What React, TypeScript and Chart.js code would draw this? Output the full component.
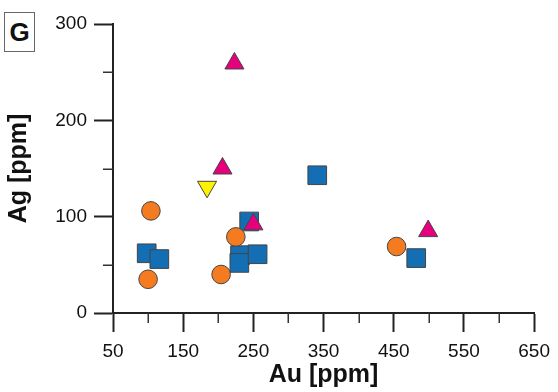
import React, { useEffect, useRef } from "react";
import { Chart, registerables } from "chart.js";

Chart.register(...registerables);

// ---- Data (Au ppm, Ag ppm) ----
const squaresAu = [98, 116, 244, 231, 230, 256, 341, 482];
const squaresAg = [62, 56, 95, 60, 52, 61, 143, 57];

const circlesAu = [104, 100, 204, 225, 454];
const circlesAg = [106, 35, 40, 79, 69];

const triUpAu = [223, 206, 250, 499];
const triUpAg = [259, 150, 92, 85];

const triDownAu = [184];
const triDownAg = [131];

// ---- Axis ticks ----
const xMajorTicks = [50, 150, 250, 350, 450, 550, 650];
const xMinorTicks = [100, 200, 300, 400, 500, 600];
const yMajorTicks = [0, 100, 200, 300];
const yMinorTicks = [50, 150, 250];

const FONT = "'Liberation Sans', Arial, Helvetica, sans-serif";

const toPoints = (xs: number[], ys: number[]) => xs.map((x, i) => ({ x, y: ys[i] }));

const minorTicksPlugin = {
  id: "minorTicks",
  afterDraw(chart: any) {
    const ctx = chart.ctx;
    const xs = chart.scales.x;
    const ys = chart.scales.y;
    ctx.save();
    ctx.strokeStyle = "#333";
    ctx.lineWidth = 1.5;
    ctx.beginPath();
    xMinorTicks.forEach((v) => {
      const px = Math.round(xs.getPixelForValue(v)) + 0.25;
      ctx.moveTo(px, xs.top);
      ctx.lineTo(px, xs.top + 10);
    });
    yMinorTicks.forEach((v) => {
      const py = Math.round(ys.getPixelForValue(v)) + 0.25;
      ctx.moveTo(ys.right, py);
      ctx.lineTo(ys.right - 10, py);
    });
    ctx.stroke();
    ctx.restore();
  },
};

export default function App() {
  const canvasRef = useRef<HTMLCanvasElement | null>(null);

  useEffect(() => {
    const canvas = canvasRef.current;
    if (!canvas) return;
    const border = "#444";
    const chart = new Chart(canvas, {
      type: "scatter",
      data: {
        datasets: [
          {
            label: "Down triangles",
            data: toPoints(triDownAu, triDownAg),
            pointStyle: "triangle",
            rotation: 180,
            pointRadius: 11,
            backgroundColor: "#fff200",
            borderColor: border,
            borderWidth: 1,
            order: 1,
          },
          {
            label: "Triangles",
            data: toPoints(triUpAu, triUpAg),
            pointStyle: "triangle",
            pointRadius: 11,
            backgroundColor: "#e6007e",
            borderColor: border,
            borderWidth: 1,
            order: 2,
          },
          {
            label: "Circles",
            data: toPoints(circlesAu, circlesAg),
            pointStyle: "circle",
            pointRadius: 9.3,
            backgroundColor: "#f47b20",
            borderColor: border,
            borderWidth: 1,
            order: 3,
          },
          {
            label: "Squares",
            data: toPoints(squaresAu, squaresAg),
            pointStyle: "rect",
            pointRadius: 13.2,
            backgroundColor: "#146eb4",
            borderColor: border,
            borderWidth: 1,
            order: 4,
          },
        ],
      },
      options: {
        animation: false,
        responsive: false,
        maintainAspectRatio: false,
        devicePixelRatio: 1,
        layout: { padding: { top: 24, right: 21, left: 0, bottom: 0 } },
        plugins: {
          legend: { display: false },
          tooltip: { enabled: false },
        },
        scales: {
          x: {
            type: "linear",
            min: 50,
            max: 650,
            afterBuildTicks: (axis: any) => {
              axis.ticks = [...xMajorTicks].map((v) => ({ value: v }));
            },
            afterFit: (axis: any) => {
              axis.height = 79;
            },
            ticks: {
              autoSkip: false,
              maxRotation: 0,
              padding: 8,
              color: "#111",
              font: { family: FONT, size: 19 },
            },
            grid: {
              display: true,
              drawOnChartArea: false,
              drawTicks: true,
              tickLength: 19,
              tickWidth: 2,
              tickColor: "#222",
            },
            border: { display: true, color: "#222", width: 2 },
            title: {
              display: true,
              text: "Au [ppm]",
              color: "#111",
              font: { family: FONT, size: 25, weight: "bold" },
              padding: { top: 0, bottom: 2 },
            },
          },
          y: {
            type: "linear",
            min: 0,
            max: 300,
            afterBuildTicks: (axis: any) => {
              axis.ticks = [...yMajorTicks].map((v) => ({ value: v }));
            },
            afterFit: (axis: any) => {
              axis.width = 113;
            },
            ticks: {
              autoSkip: false,
              padding: 7,
              color: "#111",
              font: { family: FONT, size: 19 },
            },
            grid: {
              display: true,
              drawOnChartArea: false,
              drawTicks: true,
              tickLength: 19,
              tickWidth: 2,
              tickColor: "#222",
            },
            border: { display: true, color: "#222", width: 2 },
            title: {
              display: true,
              text: "Ag [ppm]",
              color: "#111",
              font: { family: FONT, size: 25, weight: "bold" },
              padding: { top: 4, bottom: 0 },
            },
          },
        },
      },
      plugins: [minorTicksPlugin],
    });
    return () => chart.destroy();
  }, []);

  return (
    <div style={{ position: "fixed", left: 0, top: 0, width: 558, height: 392, background: "#fff" }}>
      <canvas ref={canvasRef} width={558} height={392} style={{ width: 558, height: 392, display: "block" }} />
      <div
        style={{
          position: "absolute",
          left: 4,
          top: 12,
          width: 31,
          height: 40,
          boxSizing: "border-box",
          border: "1px solid #666",
          display: "flex",
          alignItems: "center",
          justifyContent: "center",
          fontFamily: FONT,
          fontWeight: "bold",
          fontSize: 26,
          lineHeight: 1,
          color: "#111",
          background: "#fff",
        }}
      >
        G
      </div>
    </div>
  );
}
